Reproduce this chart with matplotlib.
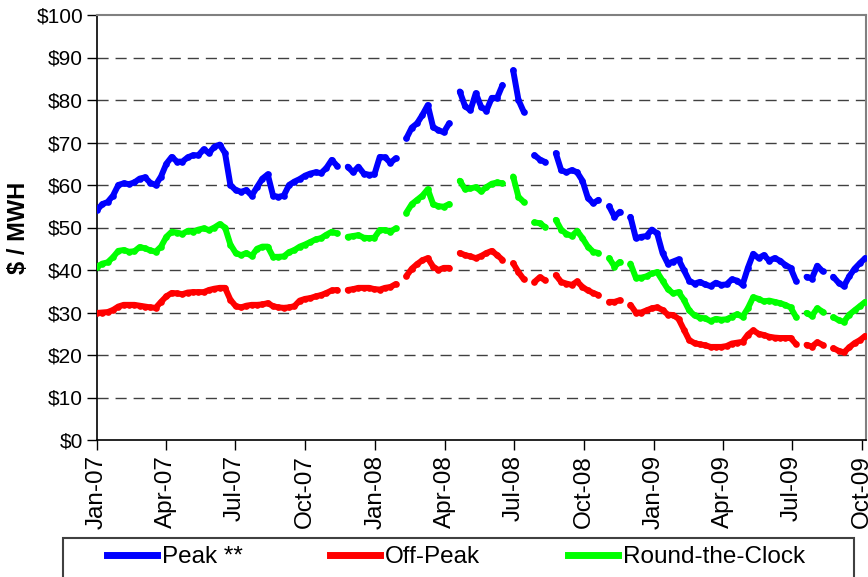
import matplotlib
matplotlib.use('Agg')
import matplotlib.pyplot as plt
import matplotlib.dates as mdates
from matplotlib.lines import Line2D
from matplotlib.patches import Rectangle
import numpy as np
import pandas as pd

plt.rcParams['font.family'] = ['Liberation Sans', 'DejaVu Sans']

nan = np.nan

week_start = '2007-01-01'
n_weeks = 145

peak = [
    54.1, 55.5, 56, 57.5, 60, 60.4, 60.2, 60.6, 61.5, 61.8,
    60.5, 60, 62, 65, 66.6, 65.5, 65.5, 66.5, 67, 67,
    68.4, 67.5, 69, 69.5, 67.5, 60, 58.8, 58.4, 58.8, 57.5,
    59.5, 61.5, 62.5, 57.5, 57.2, 57.5, 60, 60.8, 61.4, 62.2,
    62.7, 63, 62.8, 64, 65.9, 64.5, nan, 64.3, 63, 64.3,
    62.7, 62.4, 62.5, 66.6, 66.5, 65.2, 66.3, nan, 71, 73.5,
    74.5, 76.5, 78.8, 73.6, 72.9, 72.4, 74.5, nan, 82, 78.5,
    77.6, 81.6, 78.4, 77.5, 80.5, 80.5, 83.5, nan, 87, 80,
    77.2, nan, 67, 66, 65.4, nan, 67.5, 63.5, 63, 63.5,
    63, 61, 57, 55.7, 56.5, nan, 55, 52.5, 53.7, nan,
    52.5, 47.5, 47.8, 48, 49.5, 48.6, 44, 41.5, 42, 42.5,
    40, 37.5, 36.8, 37.2, 36.6, 36.2, 37, 36.5, 36.6, 37.8,
    37.5, 36.5, 40.5, 43.8, 42.8, 43.5, 42.2, 42.8, 42.2, 41.2,
    40.5, 37.5, nan, 38.4, 38, 41, 39.7, nan, 38.4, 37,
    36.2, 38.5, 40.3, 41.6, 42.8,
]

off_peak = [
    29.9, 30, 30.1, 30.6, 31.4, 31.8, 31.8, 31.8, 31.6, 31.4,
    31.2, 31.1, 32.5, 33.8, 34.6, 34.5, 34.3, 34.7, 34.8, 34.8,
    34.8, 35.3, 35.6, 35.8, 35.8, 33, 31.5, 31.2, 31.6, 31.8,
    31.8, 31.9, 32.2, 31.5, 31.2, 31.1, 31.2, 31.5, 32.8, 33.2,
    33.4, 33.8, 34.1, 34.6, 35.2, 35.3, nan, 35.3, 35.5, 35.8,
    35.8, 35.8, 35.5, 35.4, 35.8, 36, 36.7, nan, 38.6, 40.3,
    41.4, 42.3, 42.8, 40.8, 40, 40.5, 40.5, nan, 44, 43.5,
    43.2, 42.8, 43.3, 44, 44.5, 43.5, 42.4, nan, 41.6, 39.5,
    37.8, nan, 37.2, 38.3, 37.6, nan, 38.8, 37.2, 36.8, 36.5,
    37.3, 36, 35.2, 34.6, 34.1, nan, 32.5, 32.5, 32.9, nan,
    31.8, 30, 30, 30.5, 31, 31.2, 30.6, 29.5, 29.4, 28.5,
    26, 23.5, 22.8, 22.5, 22.3, 21.9, 21.9, 21.9, 22.1, 22.7,
    22.9, 23.1, 24.8, 25.8, 25, 24.7, 24.3, 24.1, 24, 24,
    24, 22.6, nan, 22.4, 22, 23, 22.4, nan, 21.6, 21,
    20.6, 21.8, 22.8, 23.5, 24.5,
]

round_the_clock = [
    40.8, 41.5, 41.8, 43, 44.5, 44.7, 44.3, 44.4, 45.4, 45.1,
    44.6, 44.3, 45.5, 47.8, 49, 48.8, 48.5, 49.2, 49, 49.5,
    49.8, 49.4, 50, 50.8, 50, 46, 44, 43.5, 44, 43.3,
    45, 45.5, 45.5, 43.1, 43.1, 43.2, 44.2, 44.7, 45.5, 46,
    46.6, 47.2, 47.5, 48.3, 49, 48.6, nan, 47.8, 48, 48.2,
    47.6, 47.5, 47.6, 49.4, 49.4, 49, 49.8, nan, 53.5, 55.5,
    56.5, 57.5, 59, 55.5, 55, 54.9, 55.5, nan, 61, 59,
    59.2, 59.5, 58.5, 59.5, 60.3, 60.6, 60.4, nan, 62, 57.2,
    56, nan, 51.2, 51, 50.1, nan, 51.8, 49.5, 48.5, 48,
    49.2, 47.5, 45.5, 44.3, 44, nan, 42.8, 40.8, 41.9, nan,
    41.5, 38.2, 38.2, 38.5, 39.2, 39.5, 37.5, 35.5, 34.5, 34.8,
    33, 30.5, 29.3, 28.8, 28.6, 28, 28.5, 28.3, 28.4, 29,
    29.6, 29, 31, 33.6, 33.2, 32.6, 32.8, 32.5, 32.2, 31.8,
    31.2, 29, nan, 29.9, 29.2, 31, 30.2, nan, 28.9, 28.2,
    27.8, 29.5, 30.5, 31.5, 32.5,
]

series_labels = ['Peak **', 'Off-Peak', 'Round-the-Clock']
series_colors = ['#0000FF', '#FF0000', '#00FF00']
y_ticks = [0, 10, 20, 30, 40, 50, 60, 70, 80, 90, 100]
x_tick_start, x_tick_end = '2007-01-01', '2009-10-01'
x_min, x_max = '2007-01-01', '2009-10-06'

dates = pd.date_range(week_start, periods=n_weeks, freq='7D')

W, H = 868, 577
fig = plt.figure(figsize=(W / 100, H / 100), dpi=100)
ax = fig.add_axes([97 / W, 1 - 440 / H, (866 - 97) / W, (440 - 15) / H])

for vals, color, label in zip([peak, off_peak, round_the_clock], series_colors, series_labels):
    ax.plot(dates, vals, color=color, lw=4.3, marker='o', ms=4.8, mew=0,
            solid_capstyle='round', solid_joinstyle='round', zorder=3)

ax.set_ylim(0, 100)
ax.set_xlim(pd.Timestamp(x_min), pd.Timestamp(x_max))

for v in y_ticks[1:-1]:
    ax.axhline(v, color='#404040', lw=1.0, dashes=(8, 5), zorder=1)

ax.set_yticks(y_ticks)
ax.set_yticklabels([f'${v}' for v in y_ticks], fontsize=15)
ax.set_xticks(pd.date_range(x_tick_start, x_tick_end, freq='QS'))
ax.xaxis.set_major_formatter(mdates.DateFormatter('%b-%y'))
for lbl in ax.get_xticklabels():
    lbl.set_rotation(90)
    lbl.set_fontsize(17.5)
ax.xaxis.set_minor_locator(matplotlib.ticker.NullLocator())

ax.tick_params(axis='both', direction='out', length=7, width=1, color='black')
ax.tick_params(axis='y', pad=3)
ax.tick_params(axis='x', pad=4)

for s in ['left', 'bottom']:
    ax.spines[s].set_color('black')
    ax.spines[s].set_linewidth(1.2)
for s in ['top', 'right']:
    ax.spines[s].set_color('#808080')
    ax.spines[s].set_linewidth(1.5)

ax.set_ylabel('$ / MWH', fontsize=17, fontweight='bold')
ax.yaxis.set_label_coords((30 - 97) / (866 - 97), 0.5)

handles = [Line2D([], [], color=c, lw=5) for c in series_colors]
fig.legend(handles, series_labels, loc='center left',
           bbox_to_anchor=(107 / W, 1 - 557 / H), ncol=3, frameon=False,
           fontsize=17.5, handlelength=2.06, handletextpad=0.2,
           columnspacing=3.6, borderpad=0, borderaxespad=0)
fig.patches.append(Rectangle((63 / W, -0.05), (854 - 63) / W, (577 - 538) / H + 0.05,
                             transform=fig.transFigure, fill=False,
                             edgecolor='#404040', lw=1.5, clip_on=False))

fig.savefig('out.png', dpi=100)
